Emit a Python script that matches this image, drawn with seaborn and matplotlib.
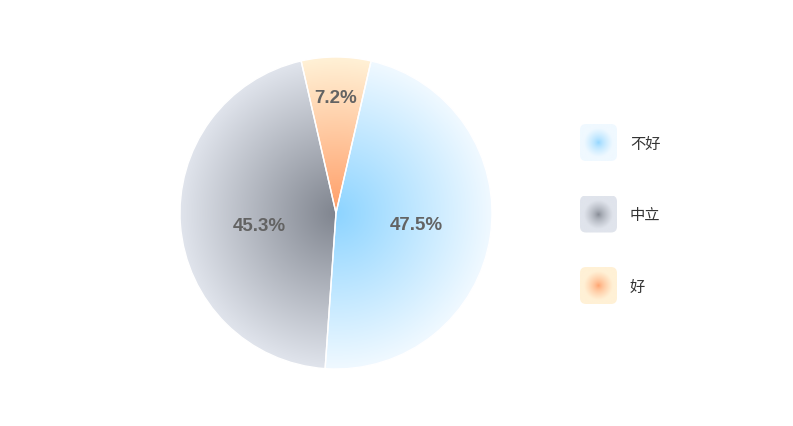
import numpy as np
import matplotlib.pyplot as plt
from matplotlib.patches import FancyBboxPatch
import seaborn as sns

# data
labels = ["不好", "中立", "好"]
values = [47.5, 45.3, 7.2]
inner_colors = ["#8dd4ff", "#80858f", "#ff9e68"]
outer_colors = ["#f0f9ff", "#e0e4ec", "#fff1d6"]

sns.set_theme(style="white")
plt.rcParams["font.family"] = ["Noto Sans CJK SC", "DejaVu Sans"]

W, H = 793, 427
fig = plt.figure(figsize=(W / 100, H / 100), dpi=100)
fig.patch.set_facecolor("white")

# pie axes, center (336,214), radius 156 px
cx, cy, r = 336, 214, 156
ax = fig.add_axes([(cx - r) / W, 1 - (cy + r) / H, 2 * r / W, 2 * r / H])
wedges, texts, autotexts = ax.pie(
    values, startangle=77, counterclock=False, autopct="%.1f%%",
    wedgeprops=dict(edgecolor="white", linewidth=1),
    textprops=dict(color="#636363", fontsize=13.5, fontweight="bold",
                   family=["Liberation Sans", "DejaVu Sans"]),
)

g = np.linspace(-1.05, 1.05, 400)
xx, yy = np.meshgrid(g, g)
rr = np.sqrt(xx ** 2 + yy ** 2)
for i, w in enumerate(wedges):
    cmap = sns.blend_palette([inner_colors[i], outer_colors[i]], as_cmap=True)
    im = ax.imshow(rr, cmap=cmap, vmin=0, vmax=1, extent=[-1.05, 1.05, -1.05, 1.05],
                   origin="lower", zorder=0, interpolation="bilinear")
    im.set_clip_path(w)
    w.set_facecolor("none")
    w.set_zorder(1)

# label positions per slice
dists = [0.52, 0.49, 0.76]
dy = [0.0, -0.04, -0.02]
for i, (w, t) in enumerate(zip(wedges, autotexts)):
    th = np.deg2rad((w.theta1 + w.theta2) / 2)
    t.set_position((dists[i] * np.cos(th), dists[i] * np.sin(th) + dy[i]))
    t.set_zorder(3)

ax.set_xlim(-1, 1)
ax.set_ylim(-1, 1)
ax.set_aspect("equal")
ax.axis("off")

# legend
ax2 = fig.add_axes([0, 0, 1, 1])
ax2.set_xlim(0, W)
ax2.set_ylim(H, 0)
ax2.axis("off")

size = 37
lg = np.linspace(-1, 1, 80)
lx, ly = np.meshgrid(lg, lg)
lr = np.clip(np.sqrt(lx ** 2 + ly ** 2) / 0.8, 0, 1) ** 0.65
for i, lab in enumerate(labels):
    yc = 143.5 + i * 71.5
    top = yc - size / 2
    box = FancyBboxPatch((580, top), size, size, boxstyle="round,pad=0,rounding_size=6",
                         facecolor="none", edgecolor="none")
    ax2.add_patch(box)
    cmap = sns.blend_palette([inner_colors[i], outer_colors[i]], as_cmap=True)
    im = ax2.imshow(lr, cmap=cmap, vmin=0, vmax=1, extent=[580, 580 + size, top + size, top],
                    interpolation="bilinear")
    im.set_clip_path(box)
    ax2.text(630, yc + 1, lab, va="center", ha="left", fontsize=11, color="#333333")

ax2.set_xlim(0, W)
ax2.set_ylim(H, 0)

fig.savefig("out.png", dpi=100)
